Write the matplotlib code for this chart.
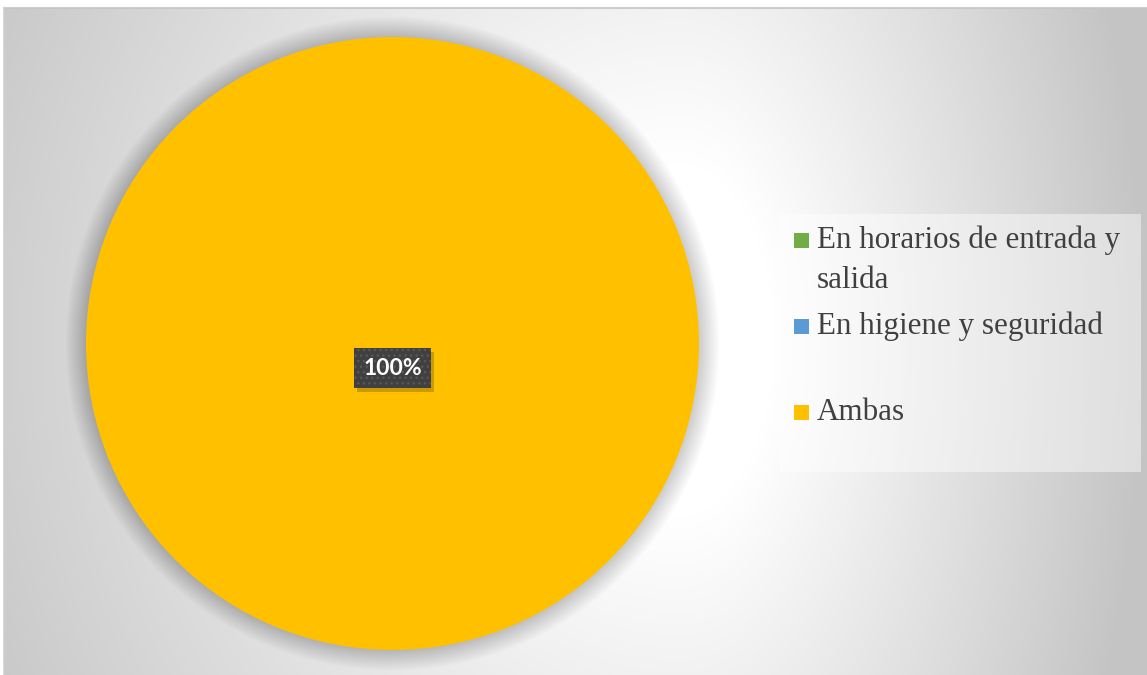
import textwrap

import numpy as np
import matplotlib
matplotlib.use("Agg")
import matplotlib.pyplot as plt
from matplotlib.patches import Circle, Rectangle
from matplotlib.transforms import IdentityTransform

# Survey answers (percent of respondents)
categories = ["En horarios de entrada y salida", "En higiene y seguridad", "Ambas"]
values = [0, 0, 100]
colors = ["#70AD47", "#5B9BD5", "#FFC000"]

W, H = 1147, 675  # output size in pixels
DPI = 100

fig = plt.figure(figsize=(W / DPI, H / DPI), dpi=DPI)
fig.patch.set_facecolor("white")

# ---- background: chart area with a soft radial fill ---------------------
bg = fig.add_axes([0, 0, 1, 1])
bg.set_xlim(0, W)
bg.set_ylim(H, 0)
bg.axis("off")

x0, y0 = 4, 8
cx, cy = 680, 340
xs = np.arange(x0, W) + 0.5
ys = np.arange(y0, H) + 0.5
gx, gy = np.meshgrid(xs, ys)
u = np.where(gx < cx, (gx - cx) / 800.0, (gx - cx) / 467.0)
v = (gy - cy) / 880.0
t = np.clip((np.hypot(u, v) - 0.2) / 0.8, 0, 1)
shade = (255 - 59 * t) / 255.0
img = np.dstack([shade, shade, shade])
bg.imshow(img, extent=[x0, W, H, y0], interpolation="bilinear", zorder=0)
bg.plot([x0, W], [y0 - 0.5, y0 - 0.5], color="#c4c4c4", lw=1.2, zorder=1)
bg.plot([x0 - 0.5, x0 - 0.5], [y0, H], color="#d0d0d0", lw=1.2, zorder=1)

# ---- pie ----------------------------------------------------------------
pcx, pcy, pr = 392.5, 343.5, 306.5
ax = fig.add_axes([(pcx - pr) / W, (H - pcy - pr) / H, 2 * pr / W, 2 * pr / H])

# soft outer shadow around the disc
for k in range(1, 26):
    ax.add_patch(Circle((0, 0), 1 + 0.0027 * k, facecolor="black",
                        edgecolor="none", alpha=0.007, zorder=0, clip_on=False))

ax.pie(values, colors=colors, startangle=90, counterclock=False,
       radius=1, frame=False, wedgeprops=dict(linewidth=0, zorder=2))

# data label for the non-empty slice, placed just inside the slice middle
total = sum(values)
start = 90.0
labels = []
for val in values:
    sweep = 360.0 * val / total
    if val > 0:
        mid = np.deg2rad(start - sweep / 2)
        lx, ly = 0.08 * np.cos(mid), 0.08 * np.sin(mid)
        txt = ax.text(lx, ly, f"{100 * val / total:.0f}%", ha="center",
                      va="center", fontsize=16.5, fontweight="bold",
                      family="Lato", color="white", zorder=4,
                      bbox=dict(boxstyle="square,pad=0.42",
                                facecolor="#404040", edgecolor="#585858",
                                linewidth=0, hatch="..."))
        labels.append(txt)
    start -= sweep

ax.set_xlim(-1, 1)
ax.set_ylim(-1, 1)
ax.axis("off")

# drop shadow behind each label box
fig.canvas.draw()
for txt in labels:
    bb = txt.get_bbox_patch().get_window_extent()
    ax.add_patch(Rectangle((bb.x0 + 3, bb.y0 - 4), bb.width, bb.height,
                           transform=IdentityTransform(), facecolor="black",
                           edgecolor="none", alpha=0.2, zorder=3,
                           clip_on=False))
ax.set_xlim(-1, 1)
ax.set_ylim(-1, 1)

# ---- legend panel -------------------------------------------------------
lx0, ly0, lx1, ly1 = 780, 214, 1141, 472
bg.add_patch(Rectangle((lx0, ly0), lx1 - lx0, ly1 - ly0, facecolor="white",
                       edgecolor="none", alpha=0.45, zorder=2))
slot = (ly1 - ly0) / len(categories)
for i, (name, col) in enumerate(zip(categories, colors)):
    base = ly0 + i * slot + 34
    bg.add_patch(Rectangle((794, base - 15), 15, 15, facecolor=col,
                           edgecolor="none", zorder=3))
    for j, line in enumerate(textwrap.wrap(name, 24)):
        bg.text(817, base + 40 * j, line, ha="left", va="baseline",
                fontsize=22.3, family="Liberation Serif", color="#404040",
                zorder=3)

fig.savefig("out.png", dpi=DPI)
